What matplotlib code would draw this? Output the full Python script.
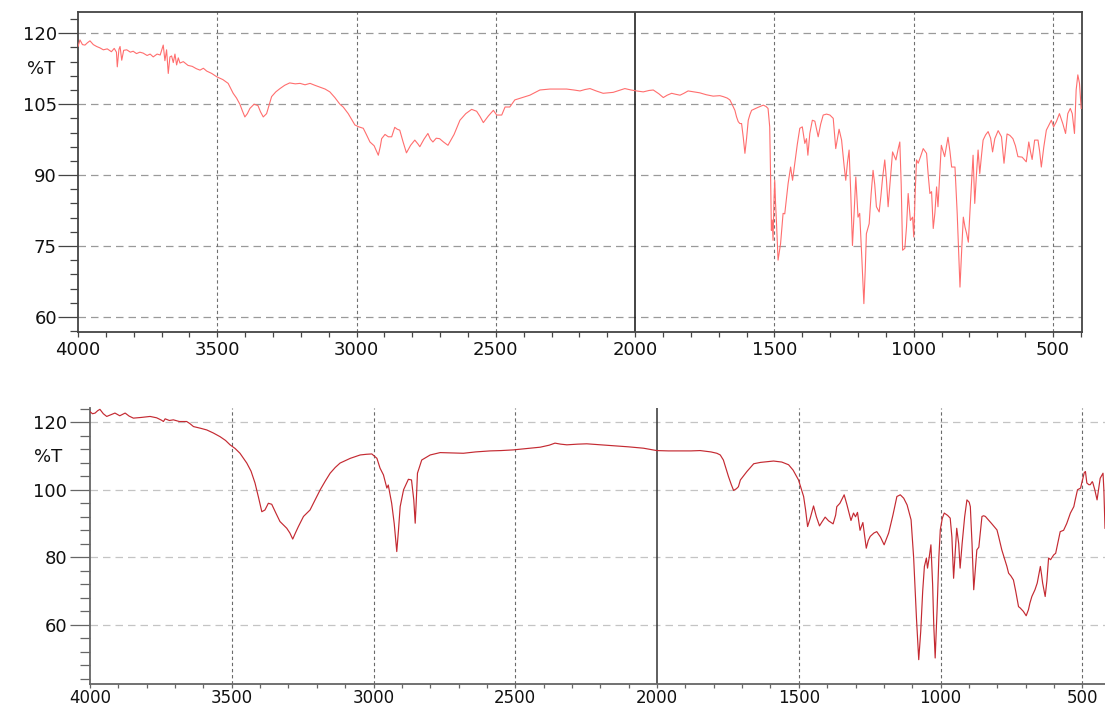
import matplotlib
matplotlib.use("Agg")
import matplotlib.pyplot as plt
from matplotlib.ticker import MultipleLocator, FixedLocator, NullFormatter

# ---------------------------------------------------------------------------
# Spectrum 1 (upper panel): wavenumber (cm-1) and transmittance (%T)
# ---------------------------------------------------------------------------
wn_top = [
    4000, 3993, 3984, 3975, 3966, 3957, 3945, 3933, 3921, 3909, 3895, 3880,
    3870, 3862, 3859, 3853, 3849, 3843, 3836, 3825, 3812, 3802, 3790, 3778,
    3766, 3752, 3741, 3730, 3716, 3705, 3694, 3688, 3682, 3676, 3670, 3664,
    3658, 3652, 3646, 3640, 3634, 3622, 3605, 3590, 3575, 3562, 3550, 3538,
    3520, 3502, 3480, 3461, 3443, 3431, 3419, 3410, 3401, 3392, 3383, 3368,
    3354, 3345, 3335, 3323, 3314, 3305, 3290, 3275, 3258, 3240, 3220, 3203,
    3185, 3167, 3150, 3131, 3113, 3096, 3078, 3060, 3048, 3030, 3015, 3006,
    2992, 2976, 2965, 2952, 2937, 2922, 2915, 2910, 2898, 2886, 2874, 2863,
    2854, 2845, 2833, 2821, 2806, 2791, 2780, 2773, 2758, 2744, 2735, 2726,
    2714, 2702, 2688, 2672, 2650, 2629, 2608, 2587, 2569, 2557, 2545, 2527,
    2509, 2497, 2479, 2467, 2450, 2432, 2405, 2378, 2342, 2306, 2270, 2246,
    2220, 2198, 2180, 2162, 2140, 2115, 2095, 2079, 2058, 2037, 2015, 1995,
    1971, 1950, 1935, 1915, 1899, 1885, 1869, 1855, 1839, 1825, 1810, 1790,
    1768, 1745, 1720, 1696, 1684, 1670, 1660, 1654, 1642, 1636, 1630, 1624,
    1618, 1612, 1606, 1600, 1594, 1588, 1582, 1560, 1540, 1530, 1523, 1517,
    1514, 1511, 1508, 1505, 1502, 1499, 1496, 1493, 1490, 1487, 1482, 1478,
    1469, 1463, 1457, 1451, 1442, 1435, 1427, 1418, 1409, 1400, 1391, 1385,
    1380, 1373, 1364, 1355, 1349, 1343, 1334, 1325, 1313, 1301, 1289, 1280,
    1268, 1259, 1250, 1244, 1238, 1232, 1226, 1220, 1214, 1208, 1200, 1194,
    1186, 1179, 1174, 1170, 1160, 1153, 1146, 1140, 1134, 1124, 1118, 1112,
    1104, 1098, 1092, 1084, 1076, 1064, 1056, 1050, 1045, 1040, 1032, 1026,
    1020, 1012, 1004, 1000, 995, 990, 984, 975, 966, 954, 948, 942,
    936, 930, 924, 918, 913, 907, 901, 889, 877, 870, 864, 852,
    844, 839, 834, 828, 822, 816, 810, 804, 796, 787, 781, 775,
    769, 763, 757, 751, 742, 733, 724, 717, 709, 697, 685, 676,
    665, 655, 644, 635, 626, 611, 596, 587, 581, 575, 566, 554,
    548, 542, 533, 524, 506, 498, 488, 477, 465, 455, 447, 438,
    431, 423, 417, 411, 405, 399,
]
t_top = [
    117.2, 118.6, 117.6, 117.5, 118.0, 118.4, 117.6, 117.2, 116.9, 116.5, 116.7, 116.1,
    116.8, 116.0, 112.9, 116.6, 117.2, 114.3, 116.4, 116.5, 116.0, 116.2, 115.7, 116.0,
    115.8, 115.3, 115.6, 115.0, 115.6, 115.4, 117.5, 114.2, 116.5, 111.5, 115.0, 115.2,
    113.8, 115.6, 113.3, 114.8, 113.7, 114.0, 113.2, 113.0, 112.5, 112.2, 112.6, 112.0,
    111.5, 110.8, 110.2, 109.4, 107.3, 106.3, 105.0, 103.6, 102.3, 103.0, 104.1, 105.0,
    104.7, 103.4, 102.3, 103.0, 104.8, 106.6, 107.6, 108.3, 109.0, 109.5, 109.3, 109.4,
    109.1, 109.4, 109.0, 108.6, 108.2, 107.6, 106.4, 105.0, 104.4, 103.0, 101.5, 100.6,
    100.2, 99.9, 98.6, 97.0, 96.2, 94.2, 96.0, 97.7, 98.6, 98.1, 98.1, 100.1,
    99.7, 99.5, 97.0, 94.7, 96.3, 97.4, 96.6, 96.0, 97.6, 98.8, 97.6, 97.0,
    97.8, 97.7, 97.0, 96.3, 98.6, 101.6, 103.0, 103.9, 103.5, 102.4, 101.1, 102.5,
    103.7, 102.7, 102.7, 104.4, 104.4, 105.9, 106.4, 106.9, 108.0, 108.2, 108.2, 108.2,
    108.0, 107.8, 108.1, 108.3, 107.8, 107.3, 107.4, 107.5, 107.9, 108.3, 108.0, 107.8,
    107.6, 107.9, 108.0, 107.2, 106.4, 106.9, 107.3, 107.1, 106.9, 107.3, 107.8, 107.6,
    107.4, 107.0, 106.7, 106.8, 106.6, 106.3, 105.9, 105.2, 103.7, 102.3, 101.3, 100.9,
    100.9, 98.0, 94.6, 97.8, 101.6, 102.8, 103.7, 104.3, 104.8, 104.5, 104.1, 100.2,
    90.3, 78.3, 80.5, 76.2, 84.0, 88.9, 84.0, 80.4, 76.0, 72.0, 74.0, 75.5,
    81.9, 81.8, 85.0, 88.2, 91.7, 88.9, 92.5, 96.5, 99.9, 100.2, 96.7, 97.7,
    94.2, 98.8, 101.6, 101.4, 99.7, 98.1, 100.8, 102.7, 102.9, 102.7, 102.0, 95.6,
    99.7, 97.4, 92.0, 88.9, 92.6, 95.3, 86.0, 75.1, 82.0, 89.6, 81.1, 81.9,
    72.0, 62.8, 70.0, 77.6, 79.7, 86.0, 91.0, 88.0, 83.3, 82.2, 85.5, 89.3,
    93.2, 89.0, 83.3, 89.0, 94.9, 93.2, 95.5, 97.0, 88.0, 74.1, 74.5, 79.0,
    86.1, 80.4, 81.1, 76.9, 86.0, 93.2, 92.5, 94.0, 95.6, 94.6, 90.0, 86.1,
    86.5, 78.7, 82.0, 87.5, 83.3, 90.0, 96.3, 93.9, 98.0, 95.0, 91.7, 91.7,
    81.9, 74.0, 66.3, 74.0, 81.1, 79.0, 77.6, 75.8, 84.7, 94.2, 84.0, 90.0,
    95.3, 90.3, 94.0, 97.4, 98.5, 99.2, 97.8, 94.9, 97.7, 99.4, 98.1, 92.5,
    98.7, 98.4, 97.7, 96.2, 93.9, 93.8, 92.8, 97.0, 95.0, 93.3, 97.4, 97.4,
    95.0, 91.7, 96.0, 99.5, 101.6, 100.2, 101.3, 103.0, 100.9, 98.8, 103.0, 104.1,
    103.0, 98.8, 108.0, 111.2, 109.4, 104.1,
]

# ---------------------------------------------------------------------------
# Spectrum 2 (lower panel)
# ---------------------------------------------------------------------------
wn_bot = [
    4000, 3991, 3982, 3973, 3965, 3953, 3941, 3926, 3912, 3895, 3876, 3862,
    3847, 3820, 3788, 3765, 3748, 3741, 3735, 3720, 3706, 3685, 3659, 3648,
    3635, 3610, 3588, 3565, 3541, 3522, 3506, 3488, 3471, 3447, 3432, 3418,
    3405, 3394, 3383, 3371, 3359, 3345, 3330, 3306, 3295, 3285, 3275, 3265,
    3247, 3224, 3206, 3188, 3170, 3153, 3135, 3118, 3100, 3082, 3064, 3047,
    3025, 3006, 2988, 2977, 2965, 2953, 2948, 2936, 2927, 2918, 2912, 2906,
    2894, 2877, 2866, 2858, 2853, 2849, 2845, 2830, 2800, 2765, 2720, 2683,
    2640, 2589, 2550, 2507, 2460, 2412, 2380, 2360, 2340, 2318, 2280, 2248,
    2200, 2154, 2100, 2048, 2020, 2001, 1960, 1918, 1880, 1848, 1810, 1789,
    1777, 1766, 1759, 1748, 1738, 1730, 1720, 1713, 1706, 1683, 1659, 1635,
    1613, 1589, 1560, 1536, 1520, 1501, 1483, 1476, 1469, 1460, 1448, 1438,
    1427, 1418, 1407, 1395, 1379, 1370, 1366, 1355, 1340, 1330, 1316, 1307,
    1300, 1293, 1284, 1274, 1262, 1255, 1248, 1235, 1225, 1212, 1199, 1183,
    1168, 1154, 1142, 1130, 1118, 1104, 1095, 1085, 1077, 1070, 1063, 1057,
    1050, 1046, 1040, 1034, 1028, 1024, 1019, 1012, 1006, 1001, 994, 987,
    975, 966, 960, 954, 948, 943, 936, 931, 924, 915, 907, 899,
    895, 889, 883, 876, 872, 865, 854, 848, 842, 820, 801, 795,
    784, 774, 766, 760, 752, 743, 735, 725, 719, 708, 698, 690,
    685, 678, 667, 659, 648, 644, 640, 631, 625, 619, 612, 601,
    594, 578, 566, 555, 542, 530, 525, 517, 506, 502, 493, 489,
    484, 477, 472, 465, 463, 456, 448, 442, 437, 427, 424, 420,
]
t_bot = [
    123.1, 122.5, 122.7, 123.4, 123.8, 122.5, 121.7, 122.2, 122.7, 121.9, 122.7, 121.8,
    121.2, 121.4, 121.7, 121.3, 120.6, 120.2, 121.0, 120.5, 120.7, 120.2, 120.2, 119.6,
    118.7, 118.2, 117.7, 116.8, 115.7, 114.6, 113.3, 112.2, 110.8, 107.9, 105.5, 102.0,
    97.5, 93.5, 94.0, 96.0, 95.7, 93.2, 90.6, 88.6, 87.2, 85.4, 87.3, 89.1,
    92.1, 94.0, 97.0, 100.0, 102.6, 104.9, 106.6, 107.9, 108.6, 109.3, 109.8, 110.3,
    110.5, 110.6, 109.3, 106.4, 104.4, 100.5, 101.4, 96.0, 90.0, 81.7, 88.0, 95.0,
    100.0, 103.1, 102.9, 97.0, 90.1, 97.0, 104.9, 108.8, 110.3, 111.0, 110.9, 110.8,
    111.2, 111.5, 111.6, 111.8, 112.2, 112.6, 113.2, 113.8, 113.5, 113.3, 113.5, 113.6,
    113.3, 113.0, 112.7, 112.3, 111.9, 111.6, 111.5, 111.5, 111.5, 111.6, 111.2, 110.8,
    110.3, 108.8, 106.9, 103.9, 101.5, 99.8, 100.3, 100.9, 102.9, 105.4, 107.7, 108.1,
    108.3, 108.5, 108.2, 107.4, 105.8, 102.9, 98.0, 94.0, 89.1, 91.5, 95.2, 92.0,
    89.3, 90.5, 91.9, 90.8, 89.9, 92.5, 95.0, 96.0, 98.5, 95.5, 90.9, 93.1,
    92.0, 93.3, 88.0, 90.3, 82.7, 85.0, 86.2, 87.2, 87.6, 86.0, 83.7, 87.2,
    92.5, 98.0, 98.5, 97.5, 95.5, 91.1, 80.0, 62.0, 49.7, 58.0, 70.0, 77.3,
    79.8, 76.8, 80.0, 83.7, 72.0, 60.0, 50.2, 65.0, 80.0, 88.1, 91.5, 93.1,
    92.4, 91.6, 86.0, 73.8, 82.0, 88.6, 84.0, 76.8, 84.0, 92.0, 97.0, 96.3,
    95.0, 84.0, 70.4, 78.0, 82.2, 83.0, 92.1, 92.3, 92.1, 90.0, 88.1, 86.1,
    82.2, 79.5, 77.3, 75.3, 74.5, 73.3, 70.0, 65.4, 65.0, 64.0, 62.7, 64.5,
    66.4, 68.4, 70.4, 72.4, 77.3, 75.0, 72.4, 68.4, 73.0, 79.8, 79.3, 80.7,
    81.2, 87.6, 88.0, 90.0, 93.1, 95.0, 97.0, 100.0, 100.5, 102.0, 105.1, 105.4,
    102.0, 101.5, 101.5, 102.4, 102.1, 100.0, 97.0, 100.5, 103.4, 104.9, 100.0, 88.6,
]

# Axis ticks
x_major = [4000, 3500, 3000, 2500, 2000, 1500, 1000, 500]
y_major_top = [60, 75, 90, 105, 120]
y_major_bot = [60, 80, 100, 120]

FONT = "DejaVu Sans"
LABEL_SIZE = 13

fig = plt.figure(figsize=(11.05, 7.06), dpi=100)
W, H = 1105.0, 706.0
ax1 = fig.add_axes([78 / W, 1 - 332 / H, 1004 / W, 320 / H])
ax2 = fig.add_axes([90 / W, 1 - 684 / H, 1015 / W, 276 / H])


def style_axes(ax, yticks, yminor, ymajor_len, yminor_len, ypad, spine_col,
               hgrid_col, vgrid_col, mid_col, full_box, xlen, xpad, xsize):
    ax.xaxis.set_major_locator(FixedLocator(x_major))
    ax.xaxis.set_minor_locator(MultipleLocator(100))
    ax.yaxis.set_major_locator(FixedLocator(yticks))
    ax.yaxis.set_minor_locator(MultipleLocator(yminor))
    ax.xaxis.set_minor_formatter(NullFormatter())
    ax.yaxis.set_minor_formatter(NullFormatter())
    ax.tick_params(axis="x", which="both", direction="out", length=xlen,
                   width=0.9, color=spine_col, pad=xpad,
                   labelsize=xsize, labelcolor="#111111")
    ax.tick_params(axis="y", which="major", direction="out", length=ymajor_len,
                   width=0.9, color=spine_col, pad=ypad,
                   labelsize=LABEL_SIZE, labelcolor="#111111")
    ax.tick_params(axis="y", which="minor", direction="out", length=yminor_len,
                   width=0.9, color=spine_col)
    for lab in ax.get_xticklabels() + ax.get_yticklabels():
        lab.set_fontfamily(FONT)
    for side in ("left", "bottom", "top", "right"):
        ax.spines[side].set_color(spine_col)
        ax.spines[side].set_linewidth(1.3)
    if not full_box:
        ax.spines["top"].set_visible(False)
        ax.spines["right"].set_visible(False)
    # dashed grid; the 2000 cm-1 line is drawn solid
    for yv in yticks:
        ax.axhline(yv, color=hgrid_col, lw=0.9, ls=(0, (6, 4)), zorder=1)
    for xv in x_major[1:]:
        if xv == 2000:
            ax.axvline(xv, color=mid_col, lw=1.1, ls="-", zorder=1)
        else:
            ax.axvline(xv, color=vgrid_col, lw=0.8, ls=(0, (3, 2.5)), zorder=1)


# Upper panel
ax1.plot(wn_top, t_top, color="#ff6e6e", lw=0.8, zorder=3)
ax1.set_xlim(4000, 396)
ax1.set_ylim(56.8, 124.5)
style_axes(ax1, y_major_top, 3, 14.4, 5.8, 0.8, "#444444",
           "#9a9a9a", "#707070", "#111111", True, 3.6, 3.2, LABEL_SIZE)
ax1.text(-0.023, 112.5, "%T", transform=ax1.get_yaxis_transform(),
         ha="right", va="center", fontsize=LABEL_SIZE, family=FONT,
         color="#111111")

# Lower panel
ax2.plot(wn_bot, t_bot, color="#c42a32", lw=0.85, zorder=3)
ax2.set_xlim(4000, 420)
ax2.set_ylim(42.5, 124.2)
style_axes(ax2, y_major_bot, 4, 14.4, 7.2, 2.2, "#666666",
           "#c4c4c4", "#6a6a6a", "#333333", False, 3.0, 0.5, 12)
ax2.text(-0.027, 109.8, "%T", transform=ax2.get_yaxis_transform(),
         ha="right", va="center", fontsize=LABEL_SIZE, family=FONT,
         color="#111111")

fig.savefig("out.png", dpi=100)
